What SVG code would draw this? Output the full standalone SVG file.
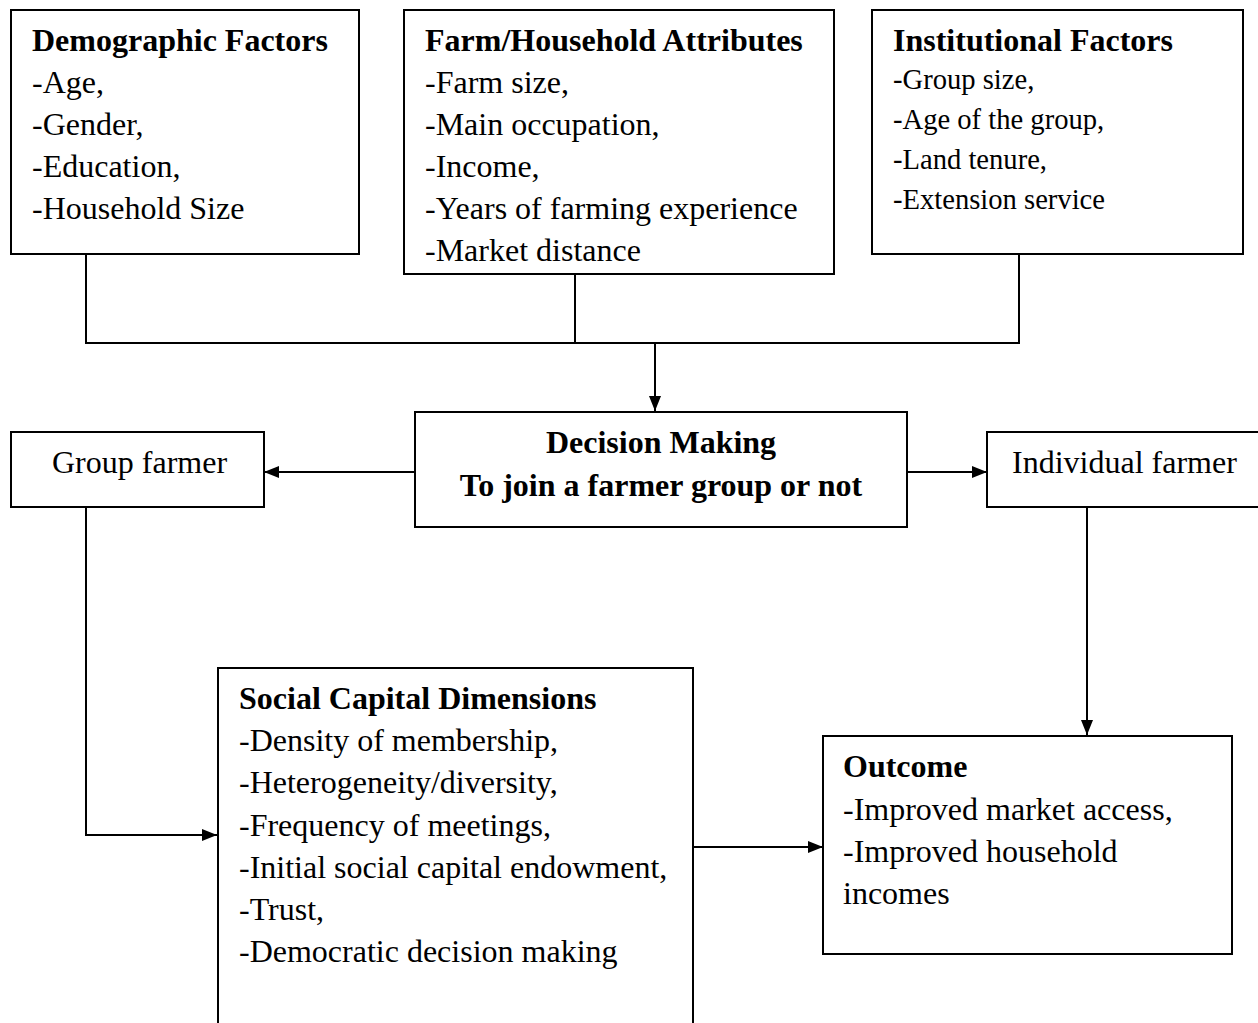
<svg xmlns="http://www.w3.org/2000/svg" width="1258" height="1023" viewBox="0 0 1258 1023">
<style>
  .box { fill: #fff; stroke: #000; stroke-width: 2; }
  .t { font-family: "Liberation Serif", "Times New Roman", serif; font-size: 32px; fill: #000; }
  .s { font-size: 28.6px; }
  .b { font-weight: bold; }
  .c { text-anchor: middle; }
  .ln { fill: none; stroke: #000; stroke-width: 2; }
</style>
<defs>
  <marker id="arr" markerUnits="userSpaceOnUse" markerWidth="16" markerHeight="14" refX="15" refY="7" orient="auto">
    <path d="M0,1 L15,7 L0,13 Z" fill="#000"/>
  </marker>
</defs>
<rect width="1258" height="1023" fill="#fff"/>

<g id="connectors">
  <polyline class="ln" points="86,254 86,343 1019,343 1019,254"/>
  <line class="ln" x1="575" y1="274" x2="575" y2="343"/>
  <line class="ln" x1="655" y1="343" x2="655" y2="411" marker-end="url(#arr)"/>
  <line class="ln" x1="415" y1="472" x2="264" y2="472" marker-end="url(#arr)"/>
  <line class="ln" x1="907" y1="472" x2="987" y2="472" marker-end="url(#arr)"/>
  <polyline class="ln" points="86,507 86,835 217,835" marker-end="url(#arr)"/>
  <line class="ln" x1="1087" y1="507" x2="1087" y2="735" marker-end="url(#arr)"/>
  <line class="ln" x1="693" y1="847" x2="823" y2="847" marker-end="url(#arr)"/>
</g>

<g id="demographic">
  <rect class="box" x="11" y="10" width="348" height="244"/>
  <text class="t b" x="32" y="51">Demographic Factors</text>
  <text class="t" x="32" y="93">-Age,</text>
  <text class="t" x="32" y="135">-Gender,</text>
  <text class="t" x="32" y="177">-Education,</text>
  <text class="t" x="32" y="219">-Household Size</text>
</g>

<g id="farm">
  <rect class="box" x="404" y="10" width="430" height="264"/>
  <text class="t b" x="425" y="51">Farm/Household Attributes</text>
  <text class="t" x="425" y="93">-Farm size,</text>
  <text class="t" x="425" y="135">-Main occupation,</text>
  <text class="t" x="425" y="177">-Income,</text>
  <text class="t" x="425" y="219">-Years of farming experience</text>
  <text class="t" x="425" y="261">-Market distance</text>
</g>

<g id="institutional">
  <rect class="box" x="872" y="10" width="371" height="244"/>
  <text class="t b" x="893" y="51">Institutional Factors</text>
  <text class="t s" x="893" y="89">-Group size,</text>
  <text class="t s" x="893" y="129">-Age of the group,</text>
  <text class="t s" x="893" y="169">-Land tenure,</text>
  <text class="t s" x="893" y="209">-Extension service</text>
</g>

<g id="decision">
  <rect class="box" x="415" y="412" width="492" height="115"/>
  <text class="t b c" x="661" y="453">Decision Making</text>
  <text class="t b c" x="661" y="496">To join a farmer group or not</text>
</g>

<g id="group-farmer">
  <rect class="box" x="11" y="432" width="253" height="75"/>
  <text class="t" x="52" y="473">Group farmer</text>
</g>

<g id="individual-farmer">
  <rect class="box" x="987" y="432" width="280" height="75"/>
  <text class="t" x="1012" y="473">Individual farmer</text>
</g>

<g id="social-capital">
  <rect class="box" x="218" y="668" width="475" height="370"/>
  <text class="t b" x="239" y="709">Social Capital Dimensions</text>
  <text class="t" x="239" y="751">-Density of membership,</text>
  <text class="t" x="239" y="793">-Heterogeneity/diversity,</text>
  <text class="t" x="239" y="836">-Frequency of meetings,</text>
  <text class="t" x="239" y="878">-Initial social capital endowment,</text>
  <text class="t" x="239" y="920">-Trust,</text>
  <text class="t" x="239" y="962">-Democratic decision making</text>
</g>

<g id="outcome">
  <rect class="box" x="823" y="736" width="409" height="218"/>
  <text class="t b" x="843" y="777">Outcome</text>
  <text class="t" x="843" y="820">-Improved market access,</text>
  <text class="t" x="843" y="862">-Improved household</text>
  <text class="t" x="843" y="904">incomes</text>
</g>
</svg>
